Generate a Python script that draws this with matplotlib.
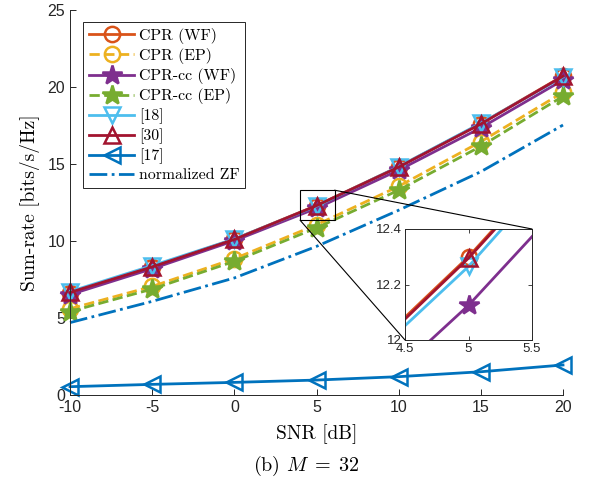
import matplotlib
matplotlib.use("Agg")
import matplotlib.pyplot as plt
from matplotlib.patches import Rectangle, ConnectionPatch

plt.rcParams['mathtext.fontset'] = 'cm'
plt.rcParams['axes.unicode_minus'] = False
plt.rcParams['axes.formatter.use_mathtext'] = False

snr = [-10, -5, 0, 5, 10, 15, 20]
cpr_wf = [6.64, 8.34, 10.12, 12.30, 14.82, 17.62, 20.72]
cpr_ep = [5.60, 7.05, 8.85, 11.05, 13.55, 16.45, 19.65]
cprcc_wf = [6.52, 8.20, 10.02, 12.125, 14.60, 17.35, 20.45]
cprcc_ep = [5.42, 6.88, 8.68, 10.85, 13.30, 16.15, 19.40]
ref18 = [6.72, 8.40, 10.13, 12.265, 14.83, 17.65, 20.65]
ref30 = [6.66, 8.32, 10.10, 12.295, 14.80, 17.60, 20.70]
ref17 = [0.54, 0.69, 0.82, 0.97, 1.19, 1.51, 1.95]
zf = [4.70, 6.08, 7.60, 9.65, 12.00, 14.50, 17.53]

labels = ['CPR (WF)', 'CPR (EP)', 'CPR-cc (WF)', 'CPR-cc (EP)', '[18]', '[30]', '[17]', 'normalized ZF']
xticks = [-10, -5, 0, 5, 10, 15, 20]
yticks = [0, 5, 10, 15, 20, 25]

series = [
    (cpr_wf, '#D95319', '-', 'o', 11, 'none'),
    (cpr_ep, '#EDB120', '--', 'o', 11, 'none'),
    (cprcc_wf, '#7E2F8E', '-', '*', 15, 'full'),
    (cprcc_ep, '#77AC30', '--', '*', 15, 'full'),
    (ref18, '#4DBEEE', '-', 'v', 11, 'none'),
    (ref30, '#A2142F', '-', '^', 11, 'none'),
    (ref17, '#0072BD', '-', '<', 11, 'none'),
]

serif = 'cmr10'
tickfont = 'Liberation Sans'

fig = plt.figure(figsize=(5.89, 4.91), dpi=100)
ax = fig.add_axes([70/589, 1-395/491, (563-70)/589, (395-10)/491])

handles = []
for (vals, col, ls, mk, ms, fill), lab in zip(series, labels[:7]):
    mfc = col if fill == 'full' else 'none'
    h, = ax.plot(snr, vals, color=col, ls=ls, lw=2, marker=mk, ms=ms,
                 mfc=mfc, mec=col, mew=1.8, label=lab, clip_on=False)
    handles.append(h)
h, = ax.plot(snr, zf, color='#0072BD', ls='-.', lw=2, label=labels[7], clip_on=False)
handles.append(h)

ax.set_xlim(-10, 20)
ax.set_ylim(0, 25)
ax.set_xticks(xticks)
ax.set_yticks(yticks)
for s in ['top', 'right']:
    ax.spines[s].set_visible(False)
for s in ['left', 'bottom']:
    ax.spines[s].set_color('0.15')
    ax.spines[s].set_linewidth(0.7)
ax.tick_params(direction='in', length=4, width=0.7, colors='0.15', labelsize=11.5)
for t in ax.get_xticklabels() + ax.get_yticklabels():
    t.set_fontfamily(tickfont)

ax.set_xlabel('SNR [dB]', fontfamily=serif, fontsize=14, labelpad=7)
ax.set_ylabel('Sum-rate [bits/s/Hz]', fontfamily=serif, fontsize=14, labelpad=5)

leg = ax.legend(handles=handles, loc='upper left', bbox_to_anchor=(83/589, 1-22/491),
                bbox_transform=fig.transFigure, prop={'family': serif, 'size': 11.4},
                fancybox=False, edgecolor='0.15', framealpha=1, handlelength=2.9,
                handletextpad=0.3, labelspacing=0.27, borderpad=0.35, borderaxespad=0)
leg.get_frame().set_linewidth(0.7)

# zoom rectangle
rx0, rx1, ry0, ry1 = 4.0, 6.1, 11.35, 13.3
ax.add_patch(Rectangle((rx0, ry0), rx1 - rx0, ry1 - ry0, fill=False, ec='black', lw=0.8, zorder=5))

ins = fig.add_axes([405/589, 1-340/491, (532-405)/589, (340-229)/491])
for (vals, col, ls, mk, ms, fill) in series:
    mfc = col if fill == 'full' else 'none'
    ins.plot(snr, vals, color=col, ls=ls, lw=2, marker=mk, ms=ms,
             mfc=mfc, mec=col, mew=1.8)
ins.plot(snr, zf, color='#0072BD', ls='-.', lw=2)
ins.set_xlim(4.5, 5.5)
ins.set_ylim(12, 12.4)
ins.set_xticks([4.5, 5, 5.5])
ins.set_xticklabels(['4.5', '5', '5.5'])
ins.set_yticks([12, 12.2, 12.4])
ins.set_yticklabels(['12', '12.2', '12.4'])
ins.tick_params(direction='in', length=3, width=0.6, colors='0.15', labelsize=9.5,
                top=True, right=True, pad=2)
for t in ins.get_xticklabels() + ins.get_yticklabels():
    t.set_fontfamily(tickfont)
for s in ins.spines.values():
    s.set_linewidth(0.7)
    s.set_color('0.15')

c1 = ConnectionPatch(xyA=(rx1, ry1), coordsA=ax.transData, xyB=(1, 1), coordsB=ins.transAxes,
                     color='black', lw=0.8)
c2 = ConnectionPatch(xyA=(rx0, ry0), coordsA=ax.transData, xyB=(0, 0), coordsB=ins.transAxes,
                     color='black', lw=0.8)
fig.add_artist(c1)
fig.add_artist(c2)

fig.text(306/589, 1-466/491, r'(b) $M\;=\;32$', ha='center', va='center',
         fontfamily=serif, fontsize=14.5)

fig.savefig('out.png', dpi=100)
